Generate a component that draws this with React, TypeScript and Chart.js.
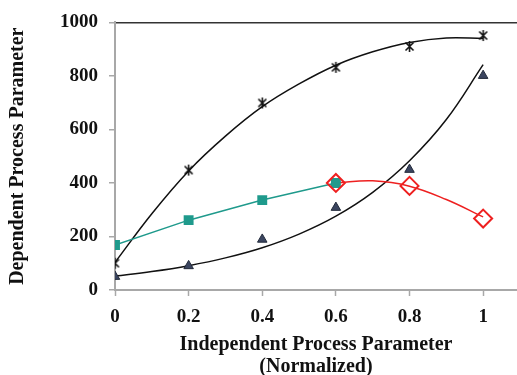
import React, { useEffect, useRef } from "react";
import { Chart, registerables } from "chart.js";

Chart.register(...registerables);

const markerX = [0, 0.2, 0.4, 0.6, 0.8, 1];
const starValues = [100, 448, 699, 832, 910, 951];
const triangleValues = [50, 90, 189, 308, 450, 801];
const squareX = [0, 0.2, 0.4, 0.6];
const squareValues = [168, 261, 336, 400];
const diamondX = [0.6, 0.8, 1];
const diamondValues = [400, 389, 267];

const trendX = [0, 0.1, 0.2, 0.3, 0.4, 0.5, 0.6, 0.7, 0.8, 0.9, 1];
const starTrend = [103, 285, 445, 575, 685, 770, 840, 890, 925, 942, 940];
const triangleTrend = [52, 69, 91, 120, 158, 209, 276, 365, 483, 637, 842];
const redTrendX = [0.6, 0.7, 0.8, 0.9, 1];
const redTrend = [400, 408, 388, 338, 273];

const xTicks = [0, 0.2, 0.4, 0.6, 0.8, 1];
const xTickLabels = ["0", "0.2", "0.4", "0.6", "0.8", "1"];
const yTicks = [0, 200, 400, 600, 800, 1000];

const FONT = "'Liberation Serif', 'Times New Roman', serif";

function pts(xs: number[], ys: number[]) {
  return xs.map((x, i) => ({ x, y: ys[i] }));
}

function makeStar(): HTMLCanvasElement {
  const c = document.createElement("canvas");
  c.width = 13;
  c.height = 13;
  const ctx = c.getContext("2d")!;
  ctx.strokeStyle = "#111";
  ctx.lineWidth = 1.6;
  ctx.beginPath();
  ctx.moveTo(2.5, 2.5);
  ctx.lineTo(10.5, 10.5);
  ctx.moveTo(10.5, 2.5);
  ctx.lineTo(2.5, 10.5);
  ctx.moveTo(6.5, 1);
  ctx.lineTo(6.5, 12);
  ctx.stroke();
  return c;
}

export default function App() {
  const ref = useRef<HTMLCanvasElement>(null);
  useEffect(() => {
    const star = makeStar();
    const chart = new Chart(ref.current!, {
      type: "line",
      data: {
        datasets: [
          {
            data: pts(markerX, starValues),
            showLine: false,
            pointStyle: star as any,
            pointRadius: 6,
            borderColor: "#111",
          },
          {
            data: pts(markerX, triangleValues),
            showLine: false,
            pointStyle: "triangle",
            pointRadius: 5.5,
            pointBackgroundColor: "#3b4560",
            pointBorderColor: "#222a3a",
            pointBorderWidth: 1,
          },
          {
            data: pts(diamondX, diamondValues),
            showLine: false,
            pointStyle: "rectRot",
            pointRadius: 9,
            pointBackgroundColor: "rgba(0,0,0,0)",
            pointBorderColor: "#ee2020",
            pointBorderWidth: 2,
          },
          {
            data: pts(squareX, squareValues),
            showLine: true,
            borderColor: "#1f9a8c",
            borderWidth: 1.5,
            tension: 0,
            pointStyle: "rect",
            pointRadius: 7,
            pointBackgroundColor: "#1f9a8c",
            pointBorderColor: "#1f9a8c",
            pointBorderWidth: 0,
          },
          {
            data: pts(redTrendX, redTrend),
            borderColor: "#ee2020",
            borderWidth: 1.5,
            tension: 0.4,
            pointRadius: 0,
          },
          {
            data: pts(trendX, starTrend),
            borderColor: "#111",
            borderWidth: 1.5,
            tension: 0.4,
            pointRadius: 0,
          },
          {
            data: pts(trendX, triangleTrend),
            borderColor: "#111",
            borderWidth: 1.5,
            tension: 0.4,
            pointRadius: 0,
          },
        ],
      },
      options: {
        animation: false,
        responsive: false,
        maintainAspectRatio: false,
        layout: { padding: { top: 22, right: 0, left: 0, bottom: 0 } },
        plugins: { legend: { display: false }, tooltip: { enabled: false } },
        scales: {
          x: {
            type: "linear",
            min: 0,
            max: 1.092,
            afterBuildTicks: (s: any) => {
              s.ticks = xTicks.map((v) => ({ value: v }));
            },
            afterFit: (s: any) => {
              s.height = 88;
            },
            border: { color: "#a8a8a8", width: 2 },
            grid: {
              drawOnChartArea: false,
              tickLength: 6,
              tickColor: "#a8a8a8",
              tickWidth: 1.5,
            },
            ticks: {
              autoSkip: false,
              maxRotation: 0,
              padding: 10,
              color: "#111",
              font: { family: FONT, size: 19, weight: "bold" },
              callback: (v: any) => {
                const i = xTicks.indexOf(Number(v));
                return i >= 0 ? xTickLabels[i] : "";
              },
            },
            title: {
              display: true,
              text: ["Independent Process Parameter", "(Normalized)"],
              color: "#111",
              font: { family: FONT, size: 20, weight: "bold", lineHeight: 1.1 },
              padding: { top: 0, bottom: 0 },
            },
          },
          y: {
            min: 0,
            max: 1000,
            afterBuildTicks: (s: any) => {
              s.ticks = yTicks.map((v) => ({ value: v }));
            },
            afterFit: (s: any) => {
              s.width = 115;
            },
            border: { color: "#a8a8a8", width: 2 },
            grid: {
              drawOnChartArea: true,
              color: (c: any) => (c.tick && c.tick.value === 1000 ? "#333" : "rgba(0,0,0,0)"),
              lineWidth: 1.5,
              tickLength: 6,
              tickColor: "#a8a8a8",
              tickWidth: 1.5,
            },
            ticks: {
              padding: 11,
              color: "#111",
              font: { family: FONT, size: 19, weight: "bold" },
              callback: (v: any) => String(v),
            },
            title: {
              display: true,
              text: "Dependent Process Parameter",
              color: "#111",
              font: { family: FONT, size: 20, weight: "bold" },
              padding: { top: 6, bottom: 0 },
            },
          },
        },
      },
    });
    return () => chart.destroy();
  }, []);
  return (
    <div style={{ position: "fixed", left: 0, top: 0, width: 517, height: 375, overflow: "hidden", background: "#fff" }}>
      <canvas ref={ref} width={528} height={378} style={{ display: "block" }} />
    </div>
  );
}
